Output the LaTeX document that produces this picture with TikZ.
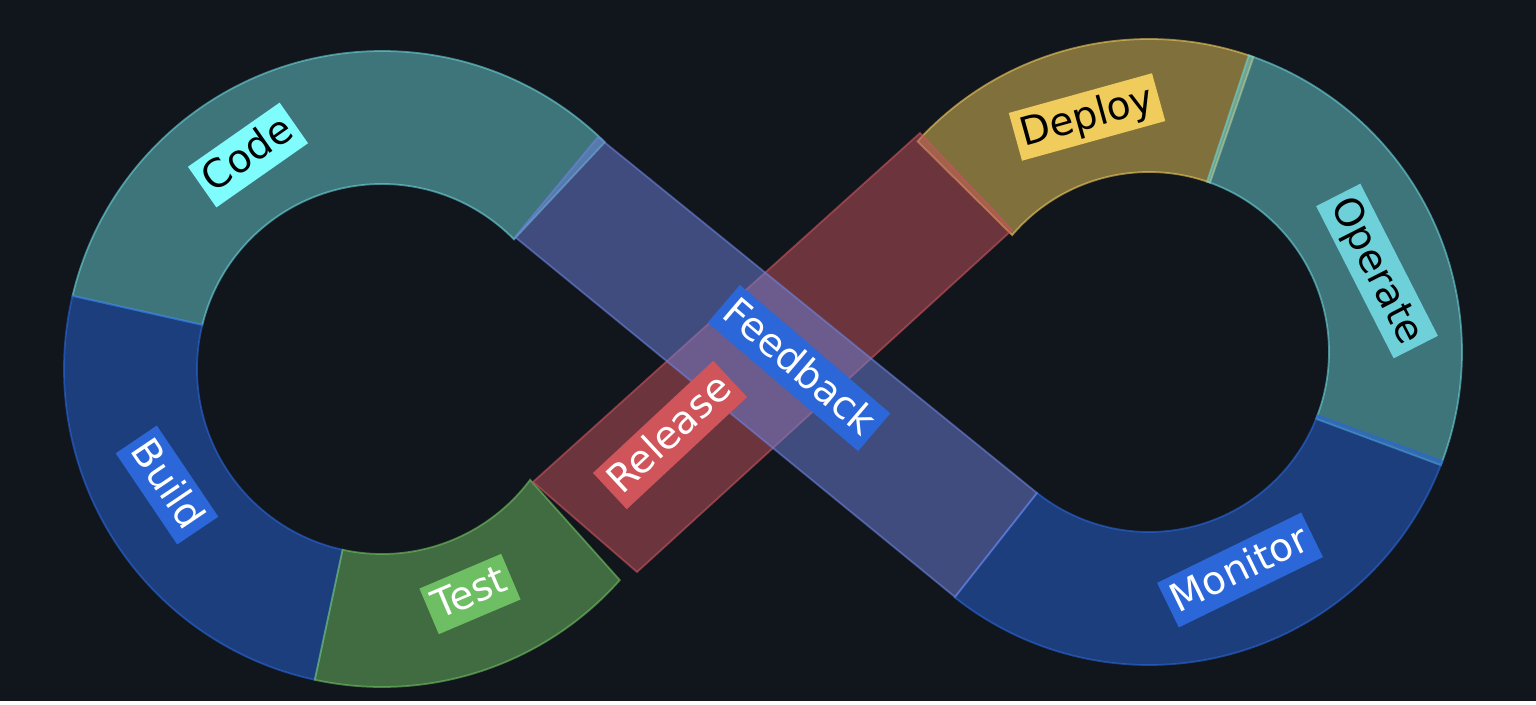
\documentclass[tikz,border=0pt]{standalone}
\usepackage{fontspec}
\setmainfont{DejaVu Sans}

\definecolor{bgdark}{RGB}{17,22,29}
\definecolor{teal1}{RGB}{107,212,218}
\definecolor{blue1}{RGB}{41,102,219}
\definecolor{green1}{RGB}{113,192,99}
\definecolor{red1}{RGB}{199,84,93}
\definecolor{violet1}{RGB}{109,130,221}
\definecolor{gold1}{RGB}{239,202,91}
\definecolor{cyanbox}{RGB}{127,252,252}
\definecolor{bluebox}{RGB}{43,103,217}
\definecolor{greenbox}{RGB}{110,190,100}
\definecolor{redbox}{RGB}{207,85,90}
\definecolor{goldbox}{RGB}{240,204,92}
\definecolor{tealbox}{RGB}{110,208,216}

\tikzset{
  seg/.style={fill=#1, fill opacity=0.5, draw=#1, draw opacity=0.6, line width=0.5pt},
  tag/.style={fill=#1, inner xsep=1.7pt, inner ysep=1.5pt, text height=8.9pt, text depth=2.2pt,
    font=\fontsize{11.1pt}{13pt}\selectfont}
}

\begin{document}
\begin{tikzpicture}[x=0.01cm, y=-0.01cm]
  \fill[bgdark] (0,0) rectangle (1536,701);

  % left loop
  \begin{scope}[shift={(382,369)}]
    \path[seg=teal1] (193.8:185) arc[start angle=193.8, end angle=315.5, radius=185]
      -- (314.5:318) arc[start angle=314.5, end angle=193.3, radius=318] -- cycle;
    \path[seg=blue1] (102.3:185) arc[start angle=102.3, end angle=193.8, radius=185]
      -- (193.3:318) arc[start angle=193.3, end angle=102.2, radius=318] -- cycle;
    \path[seg=green1] (36.8:185) arc[start angle=36.8, end angle=102.3, radius=185]
      -- (102.2:318) arc[start angle=102.2, end angle=41.6, radius=318] -- cycle;
  \end{scope}

  % right loop
  \begin{scope}[shift={(1149,352)}]
    \path[seg=gold1] (220.5:180) arc[start angle=220.5, end angle=289.8, radius=180]
      -- (289.5:313) arc[start angle=289.5, end angle=222.3, radius=313] -- cycle;
    \path[seg=teal1] (288.8:180) arc[start angle=288.8, end angle=381.8, radius=180]
      -- (381.2:313) arc[start angle=381.2, end angle=288.6, radius=313] -- cycle;
    \path[seg=blue1] (20.6:180) arc[start angle=20.6, end angle=128.5, radius=180]
      -- (128.4:313) arc[start angle=128.4, end angle=20.4, radius=313] -- cycle;
  \end{scope}

  % crossing bands
  \coordinate (r1) at (533,482);
  \coordinate (r2) at (920,133);
  \coordinate (r3) at (1012,230);
  \coordinate (r4) at (637,572);
  \coordinate (f1) at (515,237);
  \coordinate (f2) at (598,137);
  \coordinate (f3) at (1037,493);
  \coordinate (f4) at (955,597);

  \path[seg=red1] (r1) -- (r2) -- (r3) -- (r4) -- cycle;
  \path[seg=violet1] (f1) -- (f2) -- (f3) -- (f4) -- cycle;

  % stage labels
  \node[tag=cyanbox, text=black, rotate=35] (code) at (248,155) {Code};
  \node[tag=bluebox, text=white, rotate=-56] (build) at (167,485) {Build};
  \node[tag=greenbox, text=white, rotate=23] (test) at (470,594) {Test};
  \node[tag=redbox, text=white, rotate=43] (release) at (670,435) {Release};
  \node[tag=bluebox, text=white, rotate=-40.5] (feedback) at (799,368) {Feedback};
  \node[tag=goldbox, text=black, rotate=15.5] (deploy) at (1087,117) {Deploy};
  \node[tag=tealbox, text=black, rotate=-63] (operate) at (1377,271) {Operate};
  \node[tag=bluebox, text=white, rotate=26] (monitor) at (1240,570) {Monitor};
\end{tikzpicture}
\end{document}
